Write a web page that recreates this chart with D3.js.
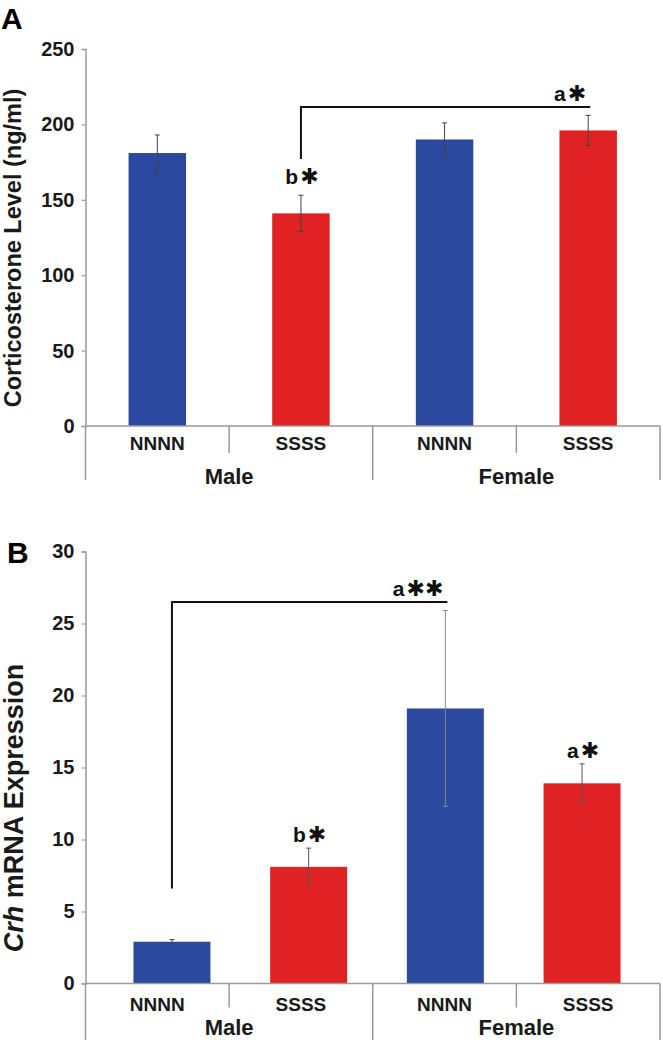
<!DOCTYPE html>
<html>
<head>
<meta charset="utf-8">
<script src="https://d3js.org/d3.v7.min.js"></script>
<style>
  html, body { margin: 0; padding: 0; background: #fff; }
  svg { display: block; font-family: "Liberation Sans", Arial, sans-serif; }
</style>
</head>
<body>
<svg id="chart" width="663" height="1040"></svg>
<script>
// ---------- data ----------
const groups = ["Male", "Female"];
const genotypes = ["NNNN", "SSSS"];
const categories = ["Male|NNNN", "Male|SSSS", "Female|NNNN", "Female|SSSS"];
const barColors = ["#2B4A9F", "#E02224", "#2B4A9F", "#E02224"];

// Panel A: corticosterone (ng/ml)
const corticoMean = [181, 141, 190, 196];
const corticoErr  = [12, 12, 11, 10];
const corticoTicks = [0, 50, 100, 150, 200, 250];

// Panel B: Crh mRNA expression
const crhMean = [2.9, 8.1, 19.1, 13.9];
const crhErr  = [0.15, 1.3, 6.8, 1.35];
const crhTicks = [0, 5, 10, 15, 20, 25, 30];

// annotations: labels above bars, brackets between categories
const corticoLabels = [{cat: 1, letter: "b", stars: 1}];
const corticoBrackets = [{from: 1, to: 3, top: 211.5, bottom: 177, letter: "a", stars: 1}];
const crhLabels = [{cat: 1, letter: "b", stars: 1}, {cat: 3, letter: "a", stars: 1}];
const crhBrackets = [{from: 0, to: 2, top: 26.5, bottom: 6.6, letter: "a", stars: 2}];

// ---------- drawing ----------
const svg = d3.select("#chart");
const axisGray = "#9a9a9a";
const textCol = "#1a1a1a";

function drawPanel(opt) {
  const g = svg.append("g");
  // axis category scale (divider positions / labels)
  const x = d3.scaleBand().domain(categories).range([85.5, 660]);
  // bar scale (bars are offset slightly in panel B, as in the original figure)
  const xb = d3.scaleBand().domain(categories)
    .range(opt.barRange).paddingInner(opt.pad).paddingOuter(opt.pad / 2);
  const y = d3.scaleLinear().domain([0, opt.ticks[opt.ticks.length - 1]])
    .range([opt.y0, opt.yTop]);
  const step = x.step();
  const cxOf = i => xb(categories[i]) + xb.bandwidth() / 2;

  // y axis
  const ya = g.append("g").attr("transform", "translate(85.5,0)")
    .call(d3.axisLeft(y).tickValues(opt.ticks).tickSize(4).tickPadding(7));
  ya.select(".domain").attr("stroke", axisGray).attr("stroke-width", 1.5);
  ya.selectAll(".tick line").attr("stroke", axisGray).attr("stroke-width", 1.2);
  ya.selectAll(".tick text").attr("font-size", 20).attr("font-weight", "bold")
    .attr("fill", textCol).attr("font-family", "'Liberation Sans', Arial, sans-serif");

  // bars
  g.selectAll("rect.bar").data(opt.mean).join("rect")
    .attr("x", (d, i) => xb(categories[i]))
    .attr("width", xb.bandwidth())
    .attr("y", d => y(d))
    .attr("height", d => y(0) - y(d))
    .attr("fill", (d, i) => barColors[i]);

  // error bars
  const eg = g.append("g").attr("fill", "none").attr("stroke-width", 1);
  opt.mean.forEach((m, i) => {
    const cx = cxOf(i);
    const e = opt.err[i];
    const col = opt.errColors ? opt.errColors[i] : "#444";
    eg.append("line").attr("stroke", col).attr("x1", cx).attr("x2", cx).attr("y1", y(m + e)).attr("y2", y(m - e));
    eg.append("line").attr("stroke", col).attr("x1", cx - 2.5).attr("x2", cx + 2.5).attr("y1", y(m + e)).attr("y2", y(m + e));
    eg.append("line").attr("stroke", col).attr("x1", cx - 2.5).attr("x2", cx + 2.5).attr("y1", y(m - e)).attr("y2", y(m - e));
  });

  // x axis line
  g.append("line").attr("x1", 85.5).attr("x2", 660).attr("y1", y(0)).attr("y2", y(0))
    .attr("stroke", axisGray).attr("stroke-width", 1.5);

  // dividers: between genotypes (short) and between groups (long)
  const bounds = d3.range(categories.length + 1).map(k => 85.5 + k * step);
  bounds.forEach((bx, k) => {
    const long = k % genotypes.length === 0;
    g.append("line").attr("x1", bx).attr("x2", bx)
      .attr("y1", y(0)).attr("y2", y(0) + (long ? opt.longDiv : opt.shortDiv))
      .attr("stroke", axisGray).attr("stroke-width", 1.5);
  });

  // genotype labels
  g.selectAll("text.geno").data(categories).join("text")
    .attr("x", d => x(d) + x.bandwidth() / 2)
    .attr("y", y(0) + opt.genoDy)
    .attr("text-anchor", "middle")
    .attr("font-size", 19).attr("font-weight", "bold").attr("fill", textCol)
    .text(d => d.split("|")[1]);

  // group labels
  groups.forEach((grp, k) => {
    g.append("text")
      .attr("x", 85.5 + (k + 0.5) * genotypes.length * step)
      .attr("y", y(0) + opt.groupDy)
      .attr("text-anchor", "middle")
      .attr("font-size", 22).attr("font-weight", "bold").attr("fill", textCol)
      .text(grp);
  });

  function sigLabel(xPos, anchor, baseY, letter, stars) {
    const t = g.append("text").attr("x", xPos).attr("y", baseY)
      .attr("text-anchor", anchor).attr("fill", "#111");
    t.append("tspan").attr("font-size", 21).attr("font-weight", "bold").text(letter);
    t.append("tspan").attr("font-family", "'DejaVu Sans', sans-serif")
      .attr("font-size", 22).attr("font-weight", "bold").attr("dx", 2)
      .text("\u2731".repeat(stars));
  }

  // labels above bars
  opt.labels.forEach(l => {
    const top = y(opt.mean[l.cat] + opt.err[l.cat]);
    sigLabel(cxOf(l.cat) + 1, "middle", top - opt.labelGap, l.letter, l.stars);
  });

  // brackets
  opt.brackets.forEach(b => {
    const x1 = cxOf(b.from);
    const x2 = cxOf(b.to) + 2;
    g.append("path")
      .attr("d", `M${x1},${y(b.bottom)}V${y(b.top)}H${x2}`)
      .attr("fill", "none").attr("stroke", "#111").attr("stroke-width", 2);
    sigLabel(x2 - 4, "end", y(b.top) - 6, b.letter, b.stars);
  });

  // y title
  const title = g.append("text")
    .attr("transform", `translate(${opt.titleX},${opt.titleY}) rotate(-90)`)
    .attr("text-anchor", "middle").attr("font-size", opt.titleSize)
    .attr("font-weight", "bold").attr("fill", textCol);
  opt.title.forEach(part => {
    title.append("tspan").attr("font-style", part.italic ? "italic" : "normal").text(part.t);
  });

  // panel letter
  g.append("text").attr("x", opt.letterX).attr("y", opt.letterY)
    .attr("font-size", 30).attr("font-weight", "bold").attr("fill", "#000")
    .text(opt.letter);
}

drawPanel({
  mean: corticoMean, err: corticoErr, ticks: corticoTicks,
  y0: 426, yTop: 49, pad: 0.6, barRange: [85.5, 660],
  shortDiv: 27, longDiv: 54, genoDy: 24, groupDy: 58,
  labels: corticoLabels, brackets: corticoBrackets, labelGap: 11,
  title: [{t: "Corticosterone Level (ng/ml)"}], titleX: 21, titleY: 248, titleSize: 23.5,
  letter: "A", letterX: 1, letterY: 28.5
});

drawPanel({
  mean: crhMean, err: crhErr, ticks: crhTicks,
  y0: 983.5, yTop: 551.5, pad: 0.437, barRange: [103.6, 650.4],
  errColors: ["#444", "#555", "#888", "#555"],
  shortDiv: 24, longDiv: 60, genoDy: 27, groupDy: 51,
  labels: crhLabels, brackets: crhBrackets, labelGap: 6,
  title: [{t: "Crh", italic: true}, {t: " mRNA Expression"}], titleX: 23, titleY: 808, titleSize: 27,
  letter: "B", letterX: 7, letterY: 563
});
</script>
</body>
</html>
